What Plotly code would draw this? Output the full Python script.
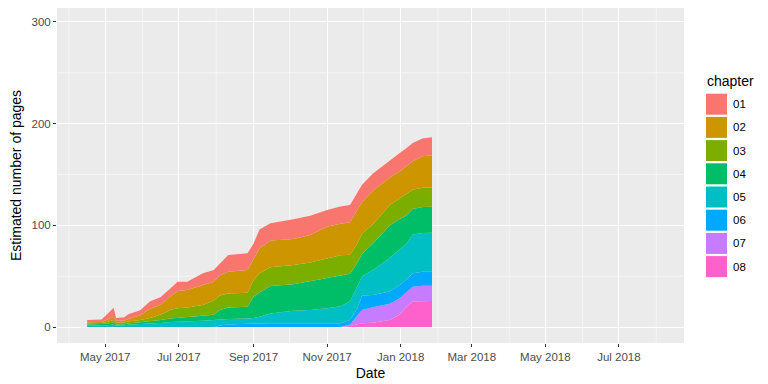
import plotly.graph_objects as go

# ---------------- data ----------------
dates = ["2017-04-16", "2017-04-28", "2017-05-03", "2017-05-08", "2017-05-10",
         "2017-05-17", "2017-05-20", "2017-05-30", "2017-06-07", "2017-06-16",
         "2017-06-24", "2017-06-30", "2017-07-08", "2017-07-21", "2017-07-30",
         "2017-08-04", "2017-08-11", "2017-08-27", "2017-09-01", "2017-09-06",
         "2017-09-15", "2017-10-04", "2017-10-18", "2017-11-01", "2017-11-12",
         "2017-11-20", "2017-11-26", "2017-11-30", "2017-12-09", "2017-12-23",
         "2017-12-31", "2018-01-06", "2018-01-11", "2018-01-19", "2018-01-27"]

ch01 = [2.3, 2.5, 5.5, 9.0, 2.8, 3.0, 4.5, 5.0, 7.0, 7.5, 8.0, 9.0, 8.2, 11.5, 11.4,
        11.6, 16.4, 16.5, 16.0, 18.6, 17.0, 19.5, 19.0, 16.5, 16.9, 17.0, 16.5, 17.0,
        17.0, 17.0, 18.0, 18.0, 18.0, 17.5, 17.5]
ch02 = [1.0, 1.0, 2.3, 3.0, 1.9, 2.0, 2.5, 4.5, 9.0, 10.0, 13.0, 17.0, 17.1, 19.7, 18.6,
        20.0, 21.4, 22.2, 20.0, 24.6, 26.3, 25.5, 27.0, 31.0, 31.0, 32.0, 33.0, 31.0,
        33.0, 27.0, 27.0, 27.0, 28.0, 31.0, 31.7]
ch03 = [1.2, 1.3, 1.9, 2.4, 1.7, 1.7, 2.0, 2.4, 3.5, 5.0, 8.5, 9.5, 9.3, 10.8, 14.0,
        14.3, 13.7, 13.8, 16.0, 18.8, 18.4, 19.0, 18.5, 19.0, 20.0, 18.5, 19.0, 20.0,
        19.0, 20.0, 20.0, 21.0, 19.0, 19.0, 19.0]
ch04 = [1.2, 1.3, 1.5, 2.0, 1.0, 1.1, 1.3, 1.6, 2.2, 3.0, 3.5, 3.8, 4.8, 4.6, 5.1,
        9.2, 11.4, 11.5, 21.2, 23.8, 26.9, 26.0, 28.3, 30.1, 30.0, 27.5, 23.0, 22.0,
        26.0, 32.0, 30.0, 28.0, 25.0, 25.5, 25.6]
ch05 = [1.3, 1.4, 1.8, 2.6, 1.6, 1.7, 2.2, 3.0, 3.3, 4.0, 5.0, 5.2, 5.2, 6.2, 6.9,
        6.0, 5.4, 5.2, 5.3, 6.6, 9.8, 12.4, 13.1, 14.8, 16.9, 18.0, 22.0, 19.0,
        24.5, 33.0, 35.0, 35.0, 38.2, 38.1, 38.3]
ch06 = [0, 0, 0, 0, 0, 0, 0, 0, 0, 0, 0, 0, 0, 0, 0,
        1.5, 2.5, 3.3, 3.5, 3.6, 3.6, 3.6, 3.6, 3.6, 3.6, 4.5, 7.0, 14.3,
        12.0, 12.0, 13.0, 12.2, 13.1, 13.8, 13.8]
ch07 = [0, 0, 0, 0, 0, 0, 0, 0, 0, 0, 0, 0, 0, 0, 0,
        0, 0, 0, 0, 0, 0, 0, 0, 0, 0, 1.5, 8.0, 13.1,
        15.2, 16.0, 16.0, 14.8, 14.7, 15.0, 15.0]
ch08 = [0, 0, 0, 0, 0, 0, 0, 0, 0, 0, 0, 0, 0, 0, 0,
        0, 0, 0, 0, 0, 0, 0, 0, 0, 0, 1.0, 3.0, 3.6,
        4.3, 7.0, 12.0, 20.0, 25.0, 25.6, 25.6]

chapters = ["01", "02", "03", "04", "05", "06", "07", "08"]
series = [ch01, ch02, ch03, ch04, ch05, ch06, ch07, ch08]
colors = ["#F8766D", "#CD9600", "#7CAE00", "#00BE67",
          "#00BFC4", "#00A9FF", "#C77CFF", "#FF61CC"]

x_tickvals = ["2017-05-01", "2017-07-01", "2017-09-01", "2017-11-01",
              "2018-01-01", "2018-03-01", "2018-05-01", "2018-07-01"]
x_ticktext = ["May 2017", "Jul 2017", "Sep 2017", "Nov 2017",
              "Jan 2018", "Mar 2018", "May 2018", "Jul 2018"]
x_minor = ["2017-04-01", "2017-06-01", "2017-08-01", "2017-10-01", "2017-12-01",
           "2018-02-01", "2018-04-01", "2018-06-01", "2018-08-01"]
y_tickvals = [0, 100, 200, 300]

# ---------------- figure ----------------
W, H = 768, 384
L, R, T, B = 57, 84, 8, 41
PW, PH = W - L - R, H - T - B
FONT = "Liberation Sans, Arial, Helvetica, sans-serif"

fig = go.Figure()
# stack bottom-up: 08 at the bottom, 01 on top
for name, vals, col in reversed(list(zip(chapters, series, colors))):
    fig.add_trace(go.Scatter(
        x=dates, y=vals, name=name, mode="lines",
        stackgroup="one", line=dict(width=0, color=col),
        fillcolor=col, showlegend=False, hoverinfo="x+y+name"))

# minor gridlines (white, thin) as shapes behind traces
for d in x_minor:
    fig.add_shape(type="line", xref="x", yref="paper", x0=d, x1=d, y0=0, y1=1,
                  line=dict(color="white", width=0.55), layer="below")
for v in [50, 150, 250]:
    fig.add_shape(type="line", xref="paper", yref="y", x0=0, x1=1, y0=v, y1=v,
                  line=dict(color="white", width=0.55), layer="below")

def px2x(px):
    return (px - L) / PW

def py2y(py):
    return (H - B - py) / PH

# manual legend in ggplot style
fig.add_annotation(text="chapter", xref="paper", yref="paper",
                   x=px2x(705), y=py2y(81), xanchor="left", yanchor="middle",
                   showarrow=False, font=dict(size=14, color="black", family=FONT))
for i, (name, col) in enumerate(zip(chapters, colors)):
    cy = 104.2 + 23.2 * i
    fig.add_shape(type="rect", xref="paper", yref="paper",
                  x0=px2x(706), x1=px2x(727), y0=py2y(cy + 10.5), y1=py2y(cy - 10.5),
                  fillcolor=col, line=dict(width=0))
    fig.add_annotation(text=name, xref="paper", yref="paper",
                       x=px2x(731), y=py2y(cy), xanchor="left", yanchor="middle",
                       showarrow=False, font=dict(size=11.5, color="black", family=FONT))

fig.update_layout(
    width=W, height=H,
    margin=dict(l=L, r=R, t=T, b=B, autoexpand=False),
    paper_bgcolor="white", plot_bgcolor="#EBEBEB",
    font=dict(family=FONT, color="#4D4D4D", size=11.5),
    showlegend=False,
    xaxis=dict(
        type="date", range=["2017-03-22", "2018-08-24"],
        tickmode="array", tickvals=x_tickvals, ticktext=x_ticktext,
        showgrid=True, gridcolor="white", gridwidth=1.1, zeroline=False,
        ticks="outside", ticklen=3, tickwidth=1, tickcolor="#333333",
        tickfont=dict(size=11.5, color="#4D4D4D"),
        showline=False,
        title=dict(text="Date", font=dict(size=14, color="black"), standoff=6),
    ),
    yaxis=dict(
        range=[-15.7, 313.7], tickmode="array", tickvals=y_tickvals,
        showgrid=True, gridcolor="white", gridwidth=1.1, zeroline=False,
        ticks="outside", ticklen=3, tickwidth=1, tickcolor="#333333",
        tickfont=dict(size=11.5, color="#4D4D4D"),
        showline=False,
        title=dict(text="Estimated number of pages", font=dict(size=14, color="black"), standoff=6),
    ),
)

fig.write_html("out.html",
               config={"displayModeBar": False},
               post_script="document.body.style.margin='0';document.body.style.padding='0';")
